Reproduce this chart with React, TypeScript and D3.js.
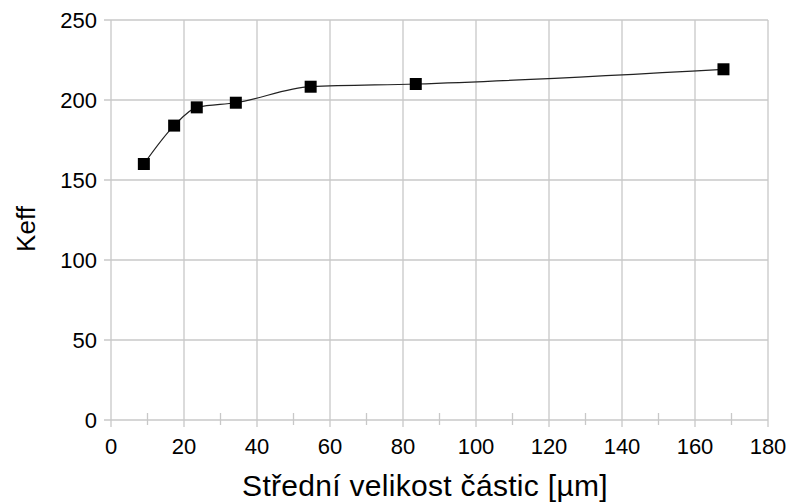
import React, { useEffect, useRef } from "react";
import * as d3 from "d3";

// mean particle size [µm] and Keff
const sizes = [9.0, 17.3, 23.5, 34.2, 54.7, 83.5, 167.8];
const keff = [160, 184, 195.4, 198.3, 208.3, 210, 219.2];
const xTicks = [0, 20, 40, 60, 80, 100, 120, 140, 160, 180];
const xMinor = [10, 30, 50, 70, 90, 110, 130, 150, 170];
const yTicks = [0, 50, 100, 150, 200, 250];

const W = 789;
const H = 504;
const margin = { top: 20, right: 21, bottom: 84, left: 111 };

function App() {
  const ref = useRef<SVGSVGElement>(null);

  useEffect(() => {
    const svg = d3.select(ref.current);
    svg.selectAll("*").remove();

    const x = d3.scaleLinear().domain([0, 180]).range([margin.left, W - margin.right]);
    const y = d3.scaleLinear().domain([0, 250]).range([H - margin.bottom, margin.top]);
    const font = "'Liberation Sans', Arial, sans-serif";
    const grid = "#c8c8c8";

    const g = svg.append("g");

    // grid
    g.selectAll(".vg")
      .data(xTicks)
      .join("line")
      .attr("x1", d => x(d))
      .attr("x2", d => x(d))
      .attr("y1", y(250))
      .attr("y2", y(0) + 7)
      .attr("stroke", grid)
      .attr("stroke-width", 1.3);

    g.selectAll(".hg")
      .data(yTicks)
      .join("line")
      .attr("x1", x(0) - 7)
      .attr("x2", x(180))
      .attr("y1", d => y(d))
      .attr("y2", d => y(d))
      .attr("stroke", grid)
      .attr("stroke-width", 1.3);

    g.selectAll(".mt")
      .data(xMinor)
      .join("line")
      .attr("x1", d => x(d))
      .attr("x2", d => x(d))
      .attr("y1", y(0) - 7)
      .attr("y2", y(0) + 5)
      .attr("stroke", grid)
      .attr("stroke-width", 1.3);

    // tick labels
    g.selectAll(".xl")
      .data(xTicks)
      .join("text")
      .attr("x", d => x(d))
      .attr("y", 454)
      .attr("text-anchor", "middle")
      .attr("font-family", font)
      .attr("font-size", 22)
      .attr("fill", "#000")
      .text(d => d);

    g.selectAll(".yl")
      .data(yTicks)
      .join("text")
      .attr("x", 97)
      .attr("y", d => y(d) + 8)
      .attr("text-anchor", "end")
      .attr("font-family", font)
      .attr("font-size", 22)
      .attr("fill", "#000")
      .text(d => d);

    // axis titles
    g.append("text")
      .attr("x", 425)
      .attr("y", 496)
      .attr("text-anchor", "middle")
      .attr("font-family", font)
      .attr("font-size", 30)
      .attr("letter-spacing", 0.3)
      .attr("fill", "#000")
      .text("Střední velikost částic [µm]");

    g.append("text")
      .attr("transform", "translate(35,229) rotate(-90)")
      .attr("text-anchor", "middle")
      .attr("font-family", font)
      .attr("font-size", 26)
      .attr("fill", "#000")
      .text("Keff");

    // series
    const pts: [number, number][] = sizes.map((s, i) => [s, keff[i]]);
    const line = d3
      .line<[number, number]>()
      .x(d => x(d[0]))
      .y(d => y(d[1]))
      .curve(d3.curveMonotoneX);

    g.append("path")
      .attr("d", line(pts))
      .attr("fill", "none")
      .attr("stroke", "#222")
      .attr("stroke-width", 1.2);

    const s = 12;
    g.selectAll(".pt")
      .data(pts)
      .join("rect")
      .attr("x", d => x(d[0]) - s / 2)
      .attr("y", d => y(d[1]) - s / 2)
      .attr("width", s)
      .attr("height", s)
      .attr("fill", "#000");
  }, []);

  return (
    <svg
      ref={ref}
      width={W}
      height={H}
      style={{ position: "absolute", left: 0, top: 0, background: "#fff" }}
    />
  );
}

export default App;
